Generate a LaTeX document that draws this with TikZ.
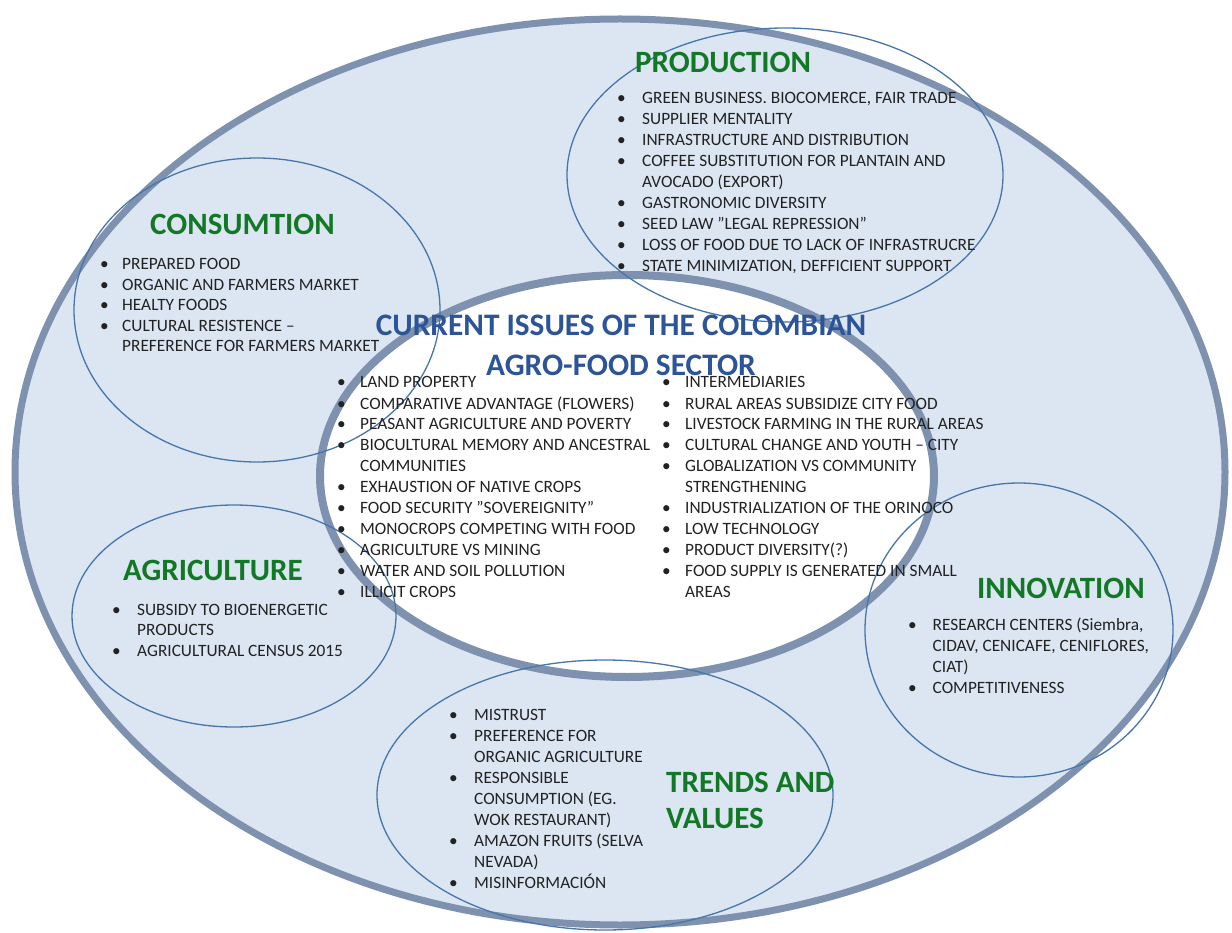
\documentclass[tikz,border=0pt]{standalone}
\usepackage{fontspec}
\setmainfont{Carlito}
\usepackage{array}
\definecolor{outerfill}{RGB}{220,230,242}
\definecolor{ringcol}{RGB}{126,145,174}
\definecolor{thincol}{RGB}{70,118,170}
\definecolor{titlegreen}{RGB}{18,120,38}
\definecolor{titleblue}{RGB}{44,84,152}
\definecolor{txt}{RGB}{34,34,34}
\tikzset{
  ring/.style={draw=ringcol, line width=7pt},
  thin/.style={draw=thincol, line width=1.3pt},
  lst/.style={anchor=base west, inner sep=0pt, text=txt, font=\fontsize{17.3}{21}\selectfont},
  lsttight/.style={lst, font=\fontsize{17.3}{20.5}\selectfont},
  ttl/.style={anchor=base west, inner sep=0pt, text=titlegreen, font=\fontsize{31}{38}\selectfont\bfseries},
  ctitle/.style={anchor=base, inner sep=0pt, text=titleblue, font=\fontsize{31.3}{40}\selectfont\bfseries}
}
\begin{document}
\begin{tikzpicture}[x=1pt,y=-1pt]
\useasboundingbox (0,0) rectangle (1232,933);
\fill[white] (0,0) rectangle (1232,933);
% outer and inner ellipses
\draw[ring, fill=outerfill] (620,472) ellipse [x radius=605, y radius=453];
\draw[ring, fill=white, line width=8pt] (627,476) ellipse [x radius=307, y radius=201];
% thin topic ellipses
\draw[thin] (785,175) ellipse [x radius=218, y radius=147];
\draw[thin] (257,310) ellipse [x radius=183, y radius=152];
\draw[thin] (234,616) ellipse [x radius=162, y radius=111];
\draw[thin] (1019,630) ellipse [x radius=154, y radius=147];
\draw[thin] (605,795) ellipse [x radius=228, y radius=135];

% titles
\node[ttl] (tprod) at (635,73) {PRODUCTION};
\node[ttl] (tcons) at (150,235) {CONSUMTION};
\node[ttl] (tagri) at (123,580) {AGRICULTURE};
\node[ttl] (tinno) at (977,598) {INNOVATION};
\node[ttl] (ttrend) at (666,792) {TRENDS AND};
\node[ttl] (tvalues) at (666,828) {VALUES};
\node[ctitle] (ct1) at (621,336) {CURRENT ISSUES OF THE COLOMBIAN};
\node[ctitle] (ct2) at (621,375) {AGRO-FOOD SECTOR};

% lists
\node[lst] (lprod) at (617,104) {\begin{tabular}[t]{@{}p{25pt}@{}l@{}}
•& GREEN BUSINESS. BIOCOMERCE, FAIR TRADE\\
•& SUPPLIER MENTALITY\\
•& INFRASTRUCTURE AND DISTRIBUTION\\
•& COFFEE SUBSTITUTION FOR PLANTAIN AND\\
 & AVOCADO (EXPORT)\\
•& GASTRONOMIC DIVERSITY\\
•& SEED LAW ”LEGAL REPRESSION”\\
•& LOSS OF FOOD DUE TO LACK OF INFRASTRUCRE\\
•& STATE MINIMIZATION, DEFFICIENT SUPPORT
\end{tabular}};

\node[lsttight] (lcons) at (100,270) {\begin{tabular}[t]{@{}p{22pt}@{}l@{}}
•& PREPARED FOOD\\
•& ORGANIC AND FARMERS MARKET\\
•& HEALTY FOODS\\
•& CULTURAL RESISTENCE –\\
 & PREFERENCE FOR FARMERS MARKET
\end{tabular}};

\node[lst] (lcl) at (337,388) {\begin{tabular}[t]{@{}p{23pt}@{}l@{}}
•& LAND PROPERTY\\
•& COMPARATIVE ADVANTAGE (FLOWERS)\\
•& PEASANT AGRICULTURE AND POVERTY\\
•& BIOCULTURAL MEMORY AND ANCESTRAL\\
 & COMMUNITIES\\
•& EXHAUSTION OF NATIVE CROPS\\
•& FOOD SECURITY ”SOVEREIGNITY”\\
•& MONOCROPS COMPETING WITH FOOD\\
•& AGRICULTURE VS MINING\\
•& WATER AND SOIL POLLUTION\\
•& ILLICIT CROPS
\end{tabular}};

\node[lst] (lcr) at (662,388) {\begin{tabular}[t]{@{}p{23pt}@{}l@{}}
•& INTERMEDIARIES\\
•& RURAL AREAS SUBSIDIZE CITY FOOD\\
•& LIVESTOCK FARMING IN THE RURAL AREAS\\
•& CULTURAL CHANGE AND YOUTH – CITY\\
•& GLOBALIZATION VS COMMUNITY\\
 & STRENGTHENING\\
•& INDUSTRIALIZATION OF THE ORINOCO\\
•& LOW TECHNOLOGY\\
•& PRODUCT DIVERSITY(?)\\
•& FOOD SUPPLY IS GENERATED IN SMALL\\
 & AREAS
\end{tabular}};

\node[lsttight] (lagri) at (112,615) {\begin{tabular}[t]{@{}p{25pt}@{}l@{}}
•& SUBSIDY TO BIOENERGETIC\\
 & PRODUCTS\\
•& AGRICULTURAL CENSUS 2015
\end{tabular}};

\node[lst] (linno) at (908,630) {\begin{tabular}[t]{@{}p{24.5pt}@{}l@{}}
•& RESEARCH CENTERS (Siembra,\\
 & CIDAV, CENICAFE, CENIFLORES,\\
 & CIAT)\\
•& COMPETITIVENESS
\end{tabular}};

\node[lst] (ltrend) at (449,720) {\begin{tabular}[t]{@{}p{25pt}@{}l@{}}
•& MISTRUST\\
•& PREFERENCE FOR\\
 & ORGANIC AGRICULTURE\\
•& RESPONSIBLE\\
 & CONSUMPTION (EG.\\
 & WOK RESTAURANT)\\
•& AMAZON FRUITS (SELVA\\
 & NEVADA)\\
•& MISINFORMACIÓN
\end{tabular}};
\end{tikzpicture}
\end{document}
